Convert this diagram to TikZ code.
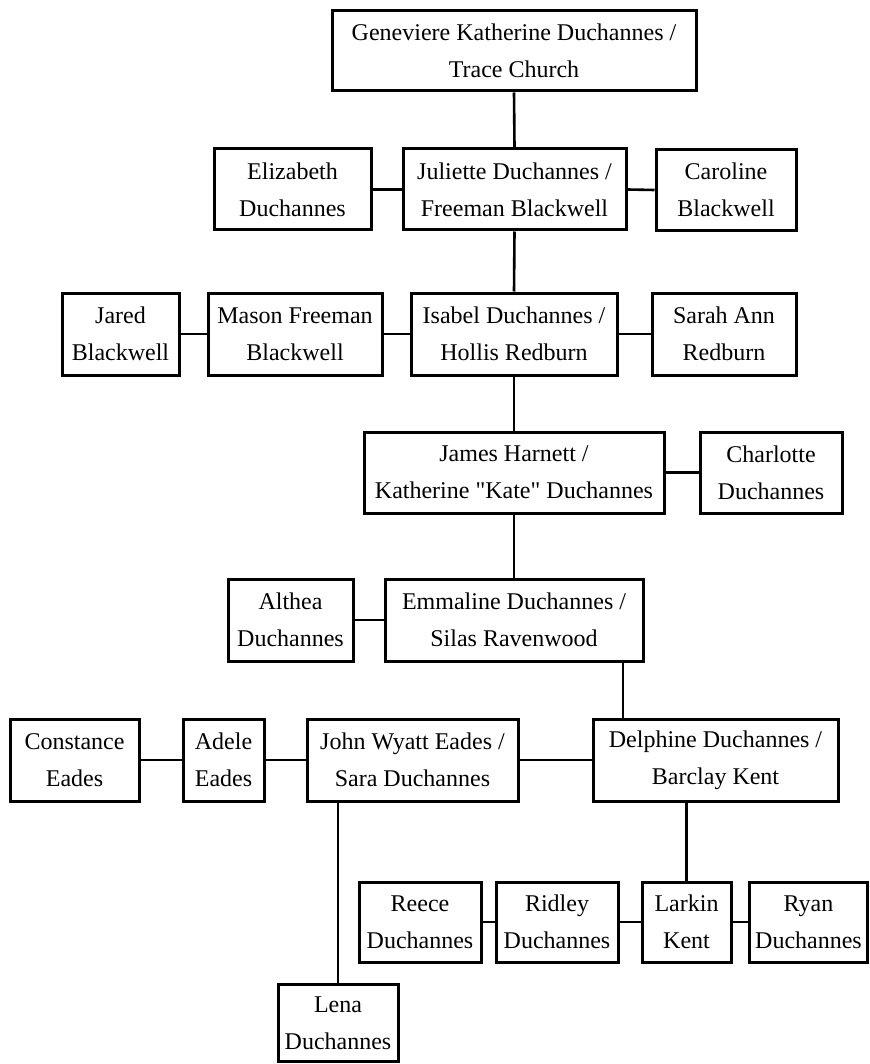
\documentclass[tikz,border=0pt]{standalone}
\usepackage{fontspec}
\setmainfont{Liberation Serif}[Ligatures=TeXOff]
\begin{document}
\begin{tikzpicture}[x=1pt,y=-1pt,
  box/.style={draw=black, line width=3pt, rectangle, inner sep=0pt, align=center,
    font=\fontsize{24}{37}\selectfont},
  link/.style={draw=black, line width=2.6pt}]
\useasboundingbox (0,0) rectangle (869,1064);
% row 1
\node[box, minimum width=364pt, minimum height=80pt] (gen) at (514,51) {Geneviere Katherine Duchannes /\\Trace Church};
% row 2
\node[box, minimum width=157pt, minimum height=81pt] (eliz) at (292.5,189.5) {Elizabeth\\Duchannes};
\node[box, minimum width=223pt, minimum height=81pt] (jul) at (514.5,189.5) {Juliette Duchannes /\\Freeman Blackwell};
\node[box, minimum width=140pt, minimum height=81pt] (car) at (726,190) {Caroline\\Blackwell};
% row 3
\node[box, minimum width=117pt, minimum height=82pt] (jared) at (120.5,334) {Jared\\Blackwell};
\node[box, minimum width=174pt, minimum height=82pt] (mason) at (295,334) {Mason Freeman\\Blackwell};
\node[box, minimum width=206pt, minimum height=82pt] (isa) at (514,334) {Isabel Duchannes /\\Hollis Redburn};
\node[box, minimum width=144pt, minimum height=82pt] (sarah) at (724,334) {Sarah Ann\\Redburn};
% row 4
\node[box, minimum width=300pt, minimum height=81pt] (james) at (514,472.5) {James Harnett /\\Katherine "Kate" Duchannes};
\node[box, minimum width=142pt, minimum height=81pt] (charl) at (771,472.5) {Charlotte\\Duchannes};
% row 5
\node[box, minimum width=125pt, minimum height=82pt] (alth) at (290.5,620) {Althea\\Duchannes};
\node[box, minimum width=258pt, minimum height=82pt] (emma) at (514,620) {Emmaline Duchannes /\\Silas Ravenwood};
% row 6
\node[box, minimum width=129pt, minimum height=82pt] (const) at (74.5,760) {Constance\\Eades};
\node[box, minimum width=81pt, minimum height=82pt] (adele) at (223.5,760) {Adele\\Eades};
\node[box, minimum width=211pt, minimum height=82pt] (john) at (412.5,760) {John Wyatt Eades /\\Sara Duchannes};
\node[box, minimum width=245pt, minimum height=82pt] (delph) at (715.5,760) {Delphine Duchannes /\\Barclay Kent};
% row 7
\node[box, minimum width=122pt, minimum height=80pt] (reece) at (420,922) {Reece\\Duchannes};
\node[box, minimum width=122pt, minimum height=80pt] (ridley) at (557,922) {Ridley\\Duchannes};
\node[box, minimum width=89pt, minimum height=80pt] (larkin) at (686.5,922) {Larkin\\Kent};
\node[box, minimum width=118pt, minimum height=80pt] (ryan) at (808.5,922) {Ryan\\Duchannes};
% row 8
\node[box, minimum width=120pt, minimum height=77pt] (lena) at (338,1023) {Lena\\Duchannes};
% connectors
\draw[link] (gen.south) -- (jul.north);
\draw[link] (eliz.east) -- (jul.west);
\draw[link] (jul.east) -- (car.west);
\draw[link] (jul.south) -- (isa.north);
\draw[link] (jared.east) -- (mason.west);
\draw[link] (mason.east) -- (isa.west);
\draw[link] (isa.east) -- (sarah.west);
\draw[link] (isa.south) -- (james.north);
\draw[link] (james.east) -- (charl.west);
\draw[link] (james.south) -- (emma.north);
\draw[link] (alth.east) -- (emma.west);
\coordinate (emmaout) at ([xshift=109pt]emma.south);
\draw[link] (emmaout) -- (emmaout |- delph.north);
\draw[link] (const.east) -- (adele.west);
\draw[link] (adele.east) -- (john.west);
\draw[link] (john.east) -- (delph.west);
\draw[link] (lena.north |- john.south) -- (lena.north);
\draw[link] (larkin.north |- delph.south) -- (larkin.north);
\draw[link] (reece.east) -- (ridley.west);
\draw[link] (ridley.east) -- (larkin.west);
\draw[link] (larkin.east) -- (ryan.west);
\end{tikzpicture}
\end{document}
